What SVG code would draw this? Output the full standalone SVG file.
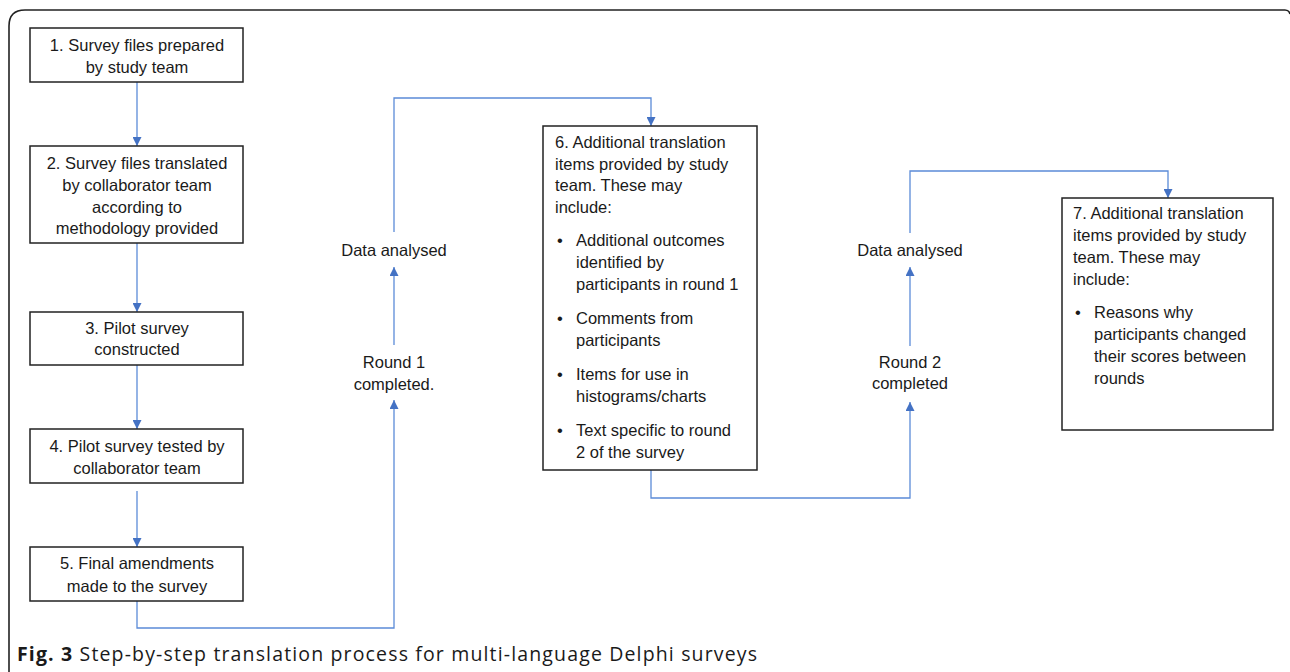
<svg xmlns="http://www.w3.org/2000/svg" width="1290" height="672" viewBox="0 0 1290 672">
<style>
.box{fill:#fff;stroke:#222;stroke-width:1.5}
.t{font-family:"Liberation Sans",Arial,sans-serif;font-size:16.5px;fill:#1a1a1a}
.c{text-anchor:middle}
.con{fill:none;stroke:#5b8bd8;stroke-width:1.3}
.cap{font-family:"Open Sans","Liberation Sans",sans-serif;font-size:19.5px;fill:#1a1a1a}
</style>
<defs>
<marker id="arr" viewBox="0 0 10 10" refX="10" refY="5" markerWidth="9" markerHeight="9" markerUnits="userSpaceOnUse" orient="auto">
<path d="M0,0 L10,5 L0,10 z" fill="#4472c4"/>
</marker>
</defs>
<rect width="1290" height="672" fill="#fff"/>
<path d="M9,672 V26 Q9,10 25,10 H1285 Q1289,10 1290,14" fill="none" stroke="#222" stroke-width="1.6"/>

<g id="connectors">
<path class="con" d="M137,82 V146" marker-end="url(#arr)"/>
<path class="con" d="M137,243 V312" marker-end="url(#arr)"/>
<path class="con" d="M137,365 V429" marker-end="url(#arr)"/>
<path class="con" d="M137,491 V547" marker-end="url(#arr)"/>
<path class="con" d="M137,601 V628 H394 V400" marker-end="url(#arr)"/>
<path class="con" d="M394,345 V267" marker-end="url(#arr)"/>
<path class="con" d="M394,232 V98 H651 V126" marker-end="url(#arr)"/>
<path class="con" d="M651,470 V498 H910 V402" marker-end="url(#arr)"/>
<path class="con" d="M910,346 V267" marker-end="url(#arr)"/>
<path class="con" d="M910,233 V171 H1168 V198" marker-end="url(#arr)"/>
</g>

<g id="n1">
<rect class="box" x="30" y="28" width="213" height="54"/>
<text class="t c" x="137" y="51">1. Survey files prepared</text>
<text class="t c" x="137" y="73">by study team</text>
</g>
<g id="n2">
<rect class="box" x="30" y="146" width="213" height="97"/>
<text class="t c" x="137" y="169">2. Survey files translated</text>
<text class="t c" x="137" y="191">by collaborator team</text>
<text class="t c" x="137" y="213">according to</text>
<text class="t c" x="137" y="234">methodology provided</text>
</g>
<g id="n3">
<rect class="box" x="30" y="312" width="213" height="53"/>
<text class="t c" x="137" y="334">3. Pilot survey</text>
<text class="t c" x="137" y="355">constructed</text>
</g>
<g id="n4">
<rect class="box" x="30" y="429" width="213" height="54"/>
<text class="t c" x="137" y="452">4. Pilot survey tested by</text>
<text class="t c" x="137" y="474">collaborator team</text>
</g>
<g id="n5">
<rect class="box" x="30" y="547" width="213" height="54"/>
<text class="t c" x="137" y="569">5. Final amendments</text>
<text class="t c" x="137" y="592">made to the survey</text>
</g>

<g id="r1">
<text class="t c" x="394" y="368">Round 1</text>
<text class="t c" x="394" y="390">completed.</text>
</g>
<g id="d1">
<text class="t c" x="394" y="256">Data analysed</text>
</g>

<g id="n6">
<rect class="box" x="543" y="126" width="214" height="344"/>
<text class="t" x="555" y="148">6. Additional translation</text>
<text class="t" x="555" y="170">items provided by study</text>
<text class="t" x="555" y="191">team. These may</text>
<text class="t" x="555" y="213">include:</text>
<text class="t" x="557" y="246">•</text>
<text class="t" x="576" y="246">Additional outcomes</text>
<text class="t" x="576" y="268">identified by</text>
<text class="t" x="576" y="290">participants in round 1</text>
<text class="t" x="557" y="324">•</text>
<text class="t" x="576" y="324">Comments from</text>
<text class="t" x="576" y="346">participants</text>
<text class="t" x="557" y="380">•</text>
<text class="t" x="576" y="380">Items for use in</text>
<text class="t" x="576" y="402">histograms/charts</text>
<text class="t" x="557" y="436">•</text>
<text class="t" x="576" y="436">Text specific to round</text>
<text class="t" x="576" y="458">2 of the survey</text>
</g>

<g id="r2">
<text class="t c" x="910" y="368">Round 2</text>
<text class="t c" x="910" y="389">completed</text>
</g>
<g id="d2">
<text class="t c" x="910" y="256">Data analysed</text>
</g>

<g id="n7">
<rect class="box" x="1062" y="198" width="211" height="232"/>
<text class="t" x="1073" y="219">7. Additional translation</text>
<text class="t" x="1073" y="241">items provided by study</text>
<text class="t" x="1073" y="263">team. These may</text>
<text class="t" x="1073" y="285">include:</text>
<text class="t" x="1075" y="318">•</text>
<text class="t" x="1094" y="318">Reasons why</text>
<text class="t" x="1094" y="340">participants changed</text>
<text class="t" x="1094" y="362">their scores between</text>
<text class="t" x="1094" y="384">rounds</text>
</g>

<text class="cap" x="17" y="661" textLength="740" lengthAdjust="spacing"><tspan font-weight="bold">Fig. 3</tspan> Step-by-step translation process for multi-language Delphi surveys</text>
</svg>
